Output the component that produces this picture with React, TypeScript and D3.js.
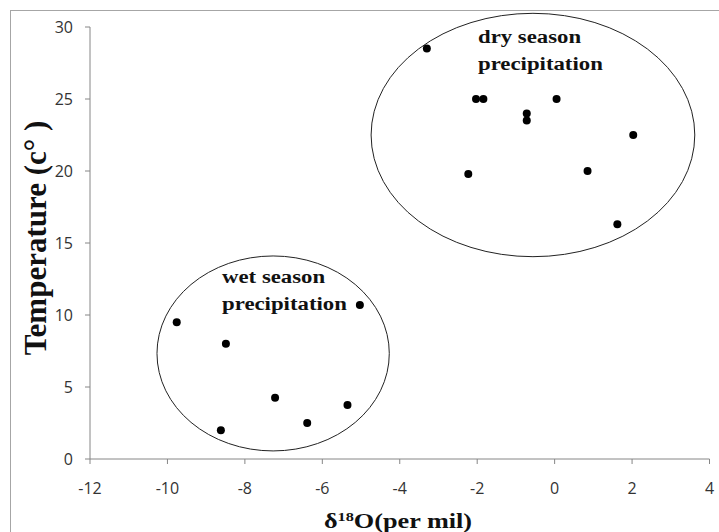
import React from 'react';
import * as d3 from 'd3';

// delta 18O (per mil) vs temperature
const dryX = [-3.3, -2.03, -1.84, 0.05, -0.72, -0.72, 2.03, -2.23, 0.85, 1.62];
const dryY = [28.5, 25, 25, 25, 24, 23.5, 22.5, 19.8, 20, 16.3];
const wetX = [-9.76, -8.49, -5.03, -7.22, -5.35, -6.39, -8.62];
const wetY = [9.5, 8, 10.7, 4.25, 3.75, 2.5, 2.0];

const xTicks = [-12, -10, -8, -6, -4, -2, 0, 2, 4];
const yTicks = [0, 5, 10, 15, 20, 25, 30];

// grouping ellipses: [cx, cy, rx, ry] in data units
const groups = [
  { name: 'dry', ellipse: [-0.56, 22.5, 4.18, 8.45], label: ['dry season', 'precipitation'], at: [-1.98, 28.9] },
  { name: 'wet', ellipse: [-7.27, 7.33, 3.0, 6.77], label: ['wet season', 'precipitation'], at: [-8.59, 12.25] },
];

const W = 719;
const H = 532;

export default function App() {
  const x = d3.scaleLinear().domain([-12, 4]).range([90, 709.5]);
  const y = d3.scaleLinear().domain([0, 30]).range([459, 27]);
  const axisColor = '#868686';
  const tickFont = { fontFamily: '"Open Sans", sans-serif', fontSize: 16, fill: '#333' };
  const serif = '"Liberation Serif", "Times New Roman", serif';

  const points = [
    ...dryX.map((v, i) => [v, dryY[i]]),
    ...wetX.map((v, i) => [v, wetY[i]]),
  ];

  return (
    <svg width={W} height={H} style={{ position: 'absolute', left: 0, top: 0, background: '#fff' }}>
      <rect x={10.5} y={10.5} width={W + 20} height={H + 20} fill="#fff" stroke="#a6a6a6" />

      {/* axes */}
      <line x1={x(-12)} x2={x(-12)} y1={y(30)} y2={y(0)} stroke={axisColor} />
      <line x1={x(-12)} x2={x(4)} y1={y(0)} y2={y(0)} stroke={axisColor} />
      {yTicks.map(t => (
        <g key={'y' + t}>
          <line x1={x(-12) - 5} x2={x(-12)} y1={y(t)} y2={y(t)} stroke={axisColor} />
          <text x={73} y={y(t)} dy="0.35em" textAnchor="end" {...tickFont}>{t}</text>
        </g>
      ))}
      {xTicks.map(t => (
        <g key={'x' + t}>
          <line x1={x(t)} x2={x(t)} y1={y(0)} y2={y(0) + 5} stroke={axisColor} />
          <text x={x(t)} y={494} textAnchor="middle" {...tickFont}>{t}</text>
        </g>
      ))}

      {/* group ellipses */}
      {groups.map(g => {
        const [cx, cy, rx, ry] = g.ellipse;
        return (
          <ellipse key={g.name} cx={x(cx)} cy={y(cy)}
            rx={x(cx + rx) - x(cx)} ry={y(cy) - y(cy + ry)}
            fill="none" stroke="#222" strokeWidth={1} />
        );
      })}
      {groups.map(g => (
        <g key={g.name + 'lab'} transform={`translate(${x(g.at[0])},${y(g.at[1])}) scale(1.2,1)`}>
          {g.label.map((s, i) => (
            <text key={i} x={0} y={i * 27} fontFamily={serif} fontWeight="bold" fontSize={19} fill="#111">{s}</text>
          ))}
        </g>
      ))}

      {points.map((p, i) => (
        <circle key={i} cx={x(p[0])} cy={y(p[1])} r={4} fill="#000" />
      ))}

      {/* axis titles */}
      <g transform="translate(398,528) scale(1.25,1)">
        <text textAnchor="middle" fontFamily={serif} fontWeight="bold" fontSize={21} fill="#111">
          δ<tspan fontSize={13} dy={-7}>18</tspan><tspan dy={7}>O(per mil)</tspan>
        </text>
      </g>
      <text transform="translate(46,238) rotate(-90)" textAnchor="middle" fontFamily={serif}
        fontWeight="bold" fontSize={31} fill="#111">Temperature (c° )</text>
    </svg>
  );
}
